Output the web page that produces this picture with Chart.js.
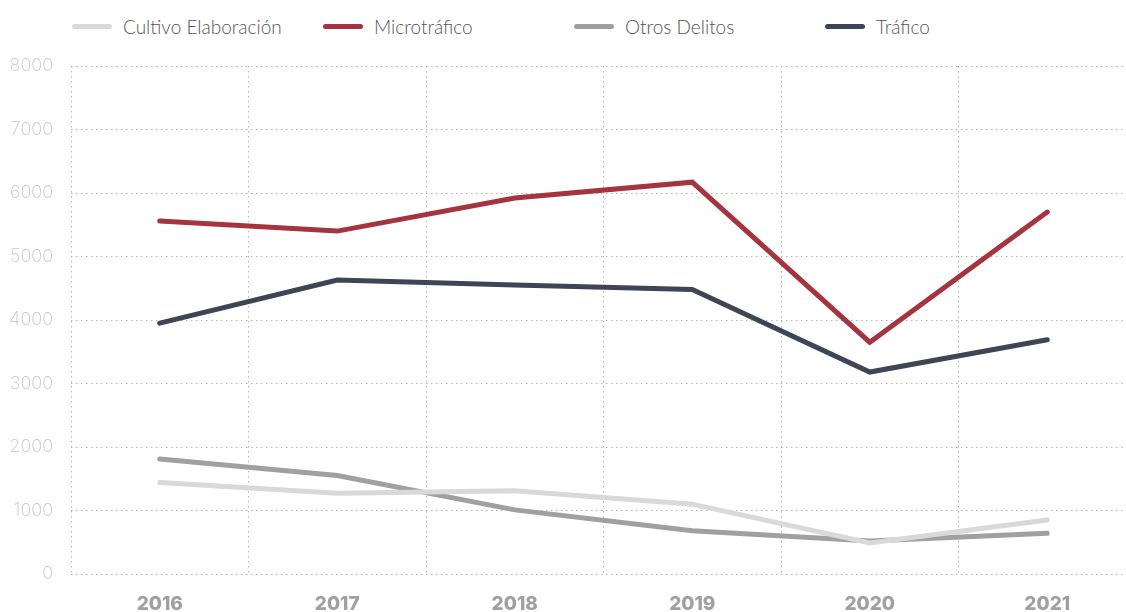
<!DOCTYPE html>
<html>
<head>
<meta charset="utf-8">
<script src="https://cdn.jsdelivr.net/npm/chart.js@4"></script>
<style>
  html, body { margin: 0; padding: 0; background: #fff; width: 1126px; height: 612px; overflow: hidden; position: relative; }
  #legend { position: absolute; left: 72px; top: 15px; display: flex; font-family: "Lato", sans-serif; font-weight: 300; font-size: 19px; color: #555; }
  #legend .item { width: 251px; display: flex; align-items: center; }
  #legend .sw { width: 40px; height: 5px; border-radius: 3px; margin-right: 11px; }
  #wrap { position: absolute; left: 0; top: 0; width: 1140px; height: 640px; }
</style>
</head>
<body>
<div id="legend"></div>
<div id="wrap"><canvas id="chart"></canvas></div>
<script>
var years = ['2016', '2017', '2018', '2019', '2020', '2021'];
var cultivo = [1440, 1270, 1310, 1100, 490, 850];
var micro = [5560, 5400, 5920, 6170, 3650, 5700];
var otros = [1810, 1550, 1010, 680, 520, 640];
var trafico = [3950, 4630, 4550, 4480, 3180, 3690];
var yTicks = [0, 1000, 2000, 3000, 4000, 5000, 6000, 7000, 8000];

var names = ['Cultivo Elaboración', 'Microtráfico', 'Otros Delitos', 'Tráfico'];
var colors = ['#d9d9d9', '#a5343f', '#a0a0a0', '#3d4556'];
var series = [cultivo, micro, otros, trafico];

var datasets = series.map(function(d, i) {
  return {
    label: names[i],
    data: d,
    borderColor: colors[i],
    backgroundColor: colors[i],
    borderWidth: 5,
    pointRadius: 0,
    tension: 0,
    fill: false,
    borderCapStyle: 'round'
  };
});

var chart = new Chart('chart', {
  type: 'line',
  data: { labels: years, datasets: datasets },
  options: {
    responsive: true,
    maintainAspectRatio: false,
    animation: false,
    layout: { padding: { top: 66, left: 0, right: 4, bottom: 0 } },
    plugins: { legend: { display: false }, tooltip: { enabled: false } },
    scales: {
      x: {
        offset: true,
        grid: { offset: true, color: '#b4b4b4', lineWidth: 1, drawTicks: false },
        border: { display: false, dash: [1.5, 3.5] },
        ticks: { color: '#a0a0a0', padding: 19, font: { family: 'Inter', weight: '800', size: 19 } },
        afterFit: function(s) { s.height = 66; }
      },
      y: {
        min: 0,
        max: 8000,
        afterBuildTicks: function(s) { s.ticks = yTicks.map(function(v) { return { value: v }; }); },
        grid: { color: '#b4b4b4', lineWidth: 1, drawTicks: false },
        border: { display: false, dash: [1.5, 3.5] },
        ticks: {
          color: '#c8c8c8', padding: 18, font: { family: 'Inter', weight: '200', size: 18 },
          callback: function(v) { return String(v); }
        },
        afterFit: function(s) { s.width = 71; }
      }
    }
  }
});

var leg = document.getElementById('legend');
chart.data.datasets.forEach(function(ds) {
  var it = document.createElement('div');
  it.className = 'item';
  it.innerHTML = '<span class="sw" style="background:' + ds.borderColor + '"></span><span>' + ds.label + '</span>';
  leg.appendChild(it);
});
</script>
</body>
</html>
